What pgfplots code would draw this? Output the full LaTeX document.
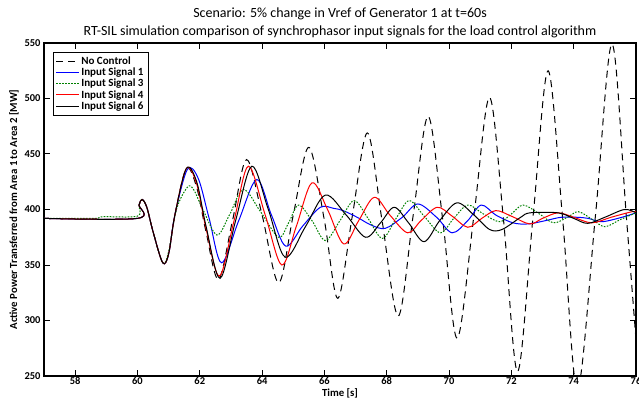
\documentclass[border=0pt]{standalone}
\usepackage{pgfplots}
\pgfplotsset{compat=1.18}
\usepackage{fontspec}
\setmainfont{Carlito}
\definecolor{sigblue}{RGB}{0,0,255}
\definecolor{siggreen}{RGB}{0,128,0}
\definecolor{sigred}{RGB}{255,0,0}

\begin{document}
\begin{tikzpicture}
\begin{axis}[
    scale only axis,
    width=592pt, height=333pt,
    xmin=57, xmax=76, ymin=250, ymax=550,
    xtick={58,60,...,76},
    ytick={250,300,...,550},
    tick align=inside,
    major tick length=6pt,
    axis line style={line width=1.6pt},
    every tick/.style={black, line width=1pt},
    /pgf/number format/assume math mode=true,
    ticklabel style={font=\bfseries\fontsize{10.5}{12}\selectfont},
    xticklabel style={yshift=2pt},
    xlabel={\textbf{Time [s]}},
    ylabel={\textbf{Active Power Transferred from Area 1 to Area 2 [MW]}},
    label style={font=\fontsize{10.8}{12}\selectfont},
    xlabel style={yshift=3pt},
    ylabel style={yshift=-1pt},
    title={Scenario: 5\% change in Vref of Generator 1 at t=60s\\RT-SIL simulation comparison of synchrophasor input signals for the load control algorithm},
    title style={align=center, font=\fontsize{14}{18}\selectfont, yshift=-4pt},
    legend style={at={(0.015,0.973)}, anchor=north west,
        font=\bfseries\fontsize{11}{12}\selectfont,
        row sep=-2pt, inner sep=2.5pt},
    legend cell align=left,
    legend image code/.code={\draw[#1] (0cm,0cm) -- (0.8cm,0cm);},
    every axis plot/.append style={line width=1pt, smooth, tension=0.55},
    clip=true,
]

% No Control
\addplot[color=black, draw=black, dash pattern=on 7pt off 5pt] coordinates {
(57,392) (60,392) (60.05,404) (60.15,409) (60.3,402) (60.5,380) (60.81,352)
(61.0,360) (61.2,395) (61.57,437) (61.9,420) (62.2,380) (62.6,337)
(63.05,390) (63.5,445) (64.0,395) (64.53,334) (65.0,395) (65.5,456)
(66.0,390) (66.43,320) (66.9,395) (67.38,469) (67.85,390) (68.37,304)
(68.85,395) (69.33,484) (69.8,390) (70.26,284) (70.8,395) (71.3,501)
(71.75,390) (72.2,254) (72.7,395) (73.18,525) (73.65,390) (74.12,238)
(74.7,395) (75.23,549) (75.7,390) (76.15,228)
};
\addlegendentry{No Control}

% Input Signal 1
\addplot[color=sigblue, draw=sigblue] coordinates {
(57,392) (60,392) (60.05,404) (60.15,409) (60.3,402) (60.5,380) (60.81,352)
(61.0,360) (61.2,395) (61.6,436) (61.95,428) (62.3,392) (62.7,352)
(63.25,390) (63.83,427) (64.3,395) (64.76,367) (65.3,385) (65.87,402)
(66.3,401) (66.6,399) (67.05,393) (67.5,386) (67.95,383) (68.5,393)
(69.0,405) (69.6,393) (70.1,379) (70.6,390) (71.03,404) (71.5,395)
(72.05,388) (72.54,387) (73.1,390) (73.6,393) (74.1,393) (74.47,392)
(74.9,389) (75.55,393) (76,397)
};
\addlegendentry{Input Signal 1}

% Input Signal 3
\addplot[color=siggreen, draw=siggreen, dash pattern=on 1.6pt off 1.4pt] coordinates {
(57,392) (58.6,392) (58.9,393.5) (60,394) (60.05,404) (60.15,409) (60.3,402)
(60.5,380) (60.81,352) (61.0,362) (61.25,400) (61.6,420) (61.8,418)
(62.1,400) (62.55,377) (62.95,395) (63.4,418) (63.95,398) (64.53,375)
(64.85,388) (65.17,404) (65.6,390) (66.03,372) (66.5,390) (66.95,408)
(67.4,392) (67.86,374) (68.3,392) (68.72,408) (69.2,394) (69.72,379)
(70.15,392) (70.6,404) (71.1,396) (71.62,389) (72.0,396) (72.38,404)
(72.9,396) (73.35,388) (73.8,393) (74.15,398) (74.6,391) (75.0,384.5)
(75.5,391) (76,397)
};
\addlegendentry{Input Signal 3}

% Input Signal 4
\addplot[color=sigred, draw=sigred] coordinates {
(57,392) (60,392) (60.05,404) (60.15,409) (60.3,402) (60.5,380) (60.81,352)
(61.0,360) (61.2,395) (61.57,437) (61.9,423) (62.2,383) (62.63,340)
(63.1,390) (63.56,439) (64.1,395) (64.63,350) (65.1,385) (65.6,424)
(66.1,400) (66.62,369) (67.1,390) (67.6,411) (68.1,395) (68.67,379)
(69.1,390) (69.62,402) (70.1,394) (70.6,384) (71.05,392) (71.5,399)
(72.0,394) (72.59,387) (73.0,392) (73.5,397) (74.0,393) (74.58,388)
(75.2,393) (75.87,398) (76,397.5)
};
\addlegendentry{Input Signal 4}

% Input Signal 6
\addplot[color=black, draw=black] coordinates {
(57,392) (60,392) (60.05,404) (60.15,409) (60.3,402) (60.5,380) (60.81,352)
(61.0,360) (61.2,395) (61.57,437) (61.9,425) (62.2,385) (62.65,338)
(63.15,390) (63.67,439) (64.2,400) (64.74,357) (65.4,385) (66.03,413)
(66.7,395) (67.32,375) (67.8,388) (68.24,402) (68.7,388) (69.2,371)
(69.7,390) (70.25,406) (70.8,395) (71.3,382) (71.7,382) (72.3,393)
(72.6,397) (73.5,397) (74.0,392) (74.45,387.5) (75.0,393) (75.63,400)
(76,397)
};
\addlegendentry{Input Signal 6}
\end{axis}
\pgfresetboundingbox
\path[use as bounding box] ([xshift=-44pt,yshift=-25pt]current axis.south west)
  rectangle ([xshift=3pt,yshift=43pt]current axis.north east);
\end{tikzpicture}
\end{document}
